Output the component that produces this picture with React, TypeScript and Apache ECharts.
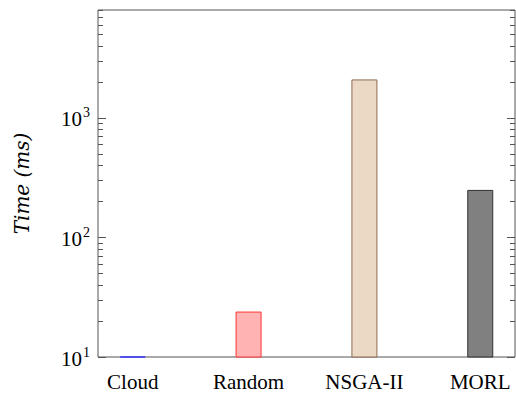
import React, { useEffect, useRef } from "react";
import * as echarts from "echarts";

const categories = ["Cloud", "Random", "NSGA-II", "MORL"];
const timeValues = [10.1, 24, 2100, 250];
const fillColors = ["#b3b3ff", "#ffb3b3", "#ebd9c5", "#808080"];
const borderColors = ["#3333ff", "#ff3333", "#8f6b4f", "#303030"];
const majorTicks = [10, 100, 1000];
const minorTicks = [20, 30, 40, 50, 60, 70, 80, 90, 200, 300, 400, 500, 600, 700, 800, 900, 2000, 3000, 4000, 5000, 6000, 7000, 8000];
const categoryPositions = [0, 1, 2, 3];

const FONT = "Liberation Serif";
const AXIS_COLOR = "#555";

export default function App() {
  const ref = useRef<HTMLDivElement>(null);
  useEffect(() => {
    if (!ref.current) return;
    const chart = echarts.init(ref.current, null, { renderer: "svg" });
    const baseY = {
      type: "log" as const,
      logBase: 10,
      min: 10,
      max: 8000,
      splitLine: { show: false },
      axisLine: { show: false, onZero: false },
    };
    chart.setOption({
      animation: false,
      grid: {
        left: 98,
        right: 1,
        top: 10,
        bottom: 40,
        show: true,
        borderColor: AXIS_COLOR,
        borderWidth: 1,
        backgroundColor: "transparent",
      },
      xAxis: {
        type: "value",
        min: -0.3,
        max: 3.3,
        axisLine: { show: false, onZero: false },
        axisTick: { show: false },
        splitLine: { show: false },
        axisLabel: {
          customValues: categoryPositions,
          formatter: (v: number) => categories[Math.round(v)] ?? "",
          fontFamily: FONT,
          fontSize: 21,
          color: "#000",
          margin: 14,
        },
      },
      yAxis: [
        {
          ...baseY,
          position: "left",
          name: "Time (ms)",
          nameLocation: "middle",
          nameGap: 66,
          nameTextStyle: {
            fontFamily: "DejaVu Serif",
            fontStyle: "italic",
            fontSize: 20,
            color: "#000",
          },
          axisTick: {
            inside: true,
            length: 8,
            customValues: majorTicks,
            lineStyle: { color: AXIS_COLOR, width: 1 },
          },
          axisLabel: {
            customValues: majorTicks,
            margin: 8,
            formatter: (v: number) => "{b|10}{s|" + Math.round(Math.log10(v)) + "}",
            rich: {
              b: { fontFamily: FONT, fontSize: 21, color: "#000", verticalAlign: "bottom" },
              s: { fontFamily: FONT, fontSize: 14, color: "#000", padding: [0, 0, 10, 1], verticalAlign: "bottom" },
            },
          },
        },
        {
          ...baseY,
          position: "left",
          axisTick: {
            inside: true,
            length: 5,
            customValues: minorTicks,
            lineStyle: { color: AXIS_COLOR, width: 1 },
          },
          axisLabel: { show: false },
        },
        {
          ...baseY,
          position: "right",
          axisTick: {
            inside: true,
            length: 8,
            customValues: majorTicks,
            lineStyle: { color: AXIS_COLOR, width: 1 },
          },
          axisLabel: { show: false },
        },
        {
          ...baseY,
          position: "right",
          axisTick: {
            inside: true,
            length: 5,
            customValues: minorTicks,
            lineStyle: { color: AXIS_COLOR, width: 1 },
          },
          axisLabel: { show: false },
        },
      ],
      series: [
        {
          type: "bar",
          yAxisIndex: 0,
          barWidth: 26,
          data: categories.map((c, i) => ({
            name: c,
            value: [categoryPositions[i], timeValues[i]],
            itemStyle: {
              color: fillColors[i],
              borderColor: borderColors[i],
              borderWidth: 1,
            },
          })),
        },
      ],
    });
    return () => chart.dispose();
  }, []);
  return <div ref={ref} style={{ width: 516, height: 397, position: "absolute", left: 0, top: 0 }} />;
}
